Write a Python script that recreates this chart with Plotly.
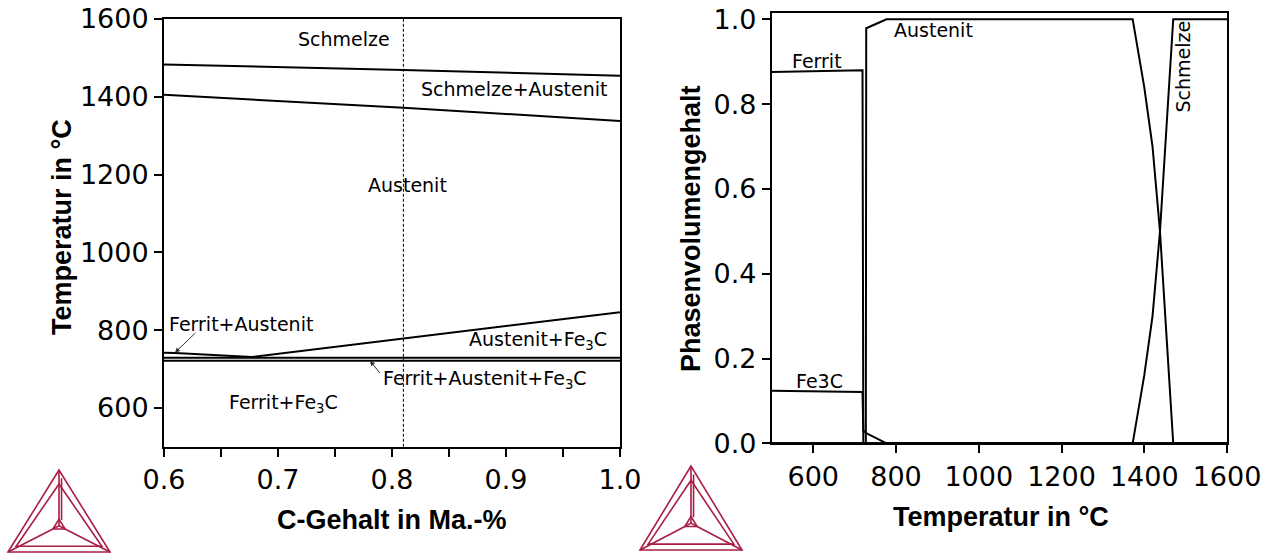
import plotly.graph_objects as go

W, H = 1277, 554

# ---------------- left panel: isopleth section (C content vs temperature)
c_liq = [0.6, 0.81, 1.0]
T_liq = [1483, 1469, 1454]
c_sol = [0.6, 0.81, 1.0]
T_sol = [1405, 1372, 1338]
c_a3acm = [0.6, 0.61, 0.677, 0.81, 1.0]
T_a3acm = [742, 741, 731, 778, 846]
c_eut = [0.6, 1.0]
T_eut_hi = [729, 729]
T_eut_lo = [721, 721]
c_sel = [0.81, 0.81]
T_sel = [500, 1600]

# ---------------- right panel: phase volume fractions vs temperature
T_ferrit = [500, 719, 721, 1600]
f_ferrit = [0.876, 0.880, 0.0, 0.0]
T_fe3c = [500, 719, 721, 728, 777, 1600]
f_fe3c = [0.124, 0.121, 0.03, 0.024, 0.0, 0.0]
T_aus = [500, 727, 728, 777, 1372, 1400, 1420, 1438, 1455, 1470, 1600]
f_aus = [0.0, 0.0, 0.979, 1.0, 1.0, 0.84, 0.70, 0.50, 0.234, 0.0, 0.0]
T_melt = [500, 1372, 1400, 1420, 1438, 1455, 1470, 1600]
f_melt = [0.0, 0.0, 0.16, 0.30, 0.50, 0.766, 1.0, 1.0]

left_xticks = [0.6, 0.7, 0.8, 0.9, 1.0]
left_yticks = [600, 800, 1000, 1200, 1400, 1600]
right_xticks = [600, 800, 1000, 1200, 1400, 1600]
right_yticks = [0.0, 0.2, 0.4, 0.6, 0.8, 1.0]

FONT = "DejaVu Sans"
BOLD = "Liberation Sans"

fig = go.Figure()

def line(x, y, xa, ya, dash=None, width=2):
    fig.add_trace(go.Scatter(x=x, y=y, mode="lines", xaxis=xa, yaxis=ya,
                             line=dict(color="black", width=width, dash=dash),
                             showlegend=False, hoverinfo="skip"))

line(c_sel, T_sel, "x", "y", dash="3px,2px", width=1)
line(c_liq, T_liq, "x", "y")
line(c_sol, T_sol, "x", "y")
line(c_a3acm, T_a3acm, "x", "y")
line(c_eut, T_eut_hi, "x", "y")
line(c_eut, T_eut_lo, "x", "y")

line(T_ferrit, f_ferrit, "x2", "y2")
line(T_fe3c, f_fe3c, "x2", "y2")
line(T_aus, f_aus, "x2", "y2")
line(T_melt, f_melt, "x2", "y2")

def px2paper(px, py):
    return px / W, 1 - py / H

ax_common = dict(showline=True, linecolor="black", linewidth=2, mirror=True,
                 ticks="outside", ticklen=8, tickwidth=2, tickcolor="black",
                 showgrid=False, zeroline=False, automargin=False,
                 tickfont=dict(family=FONT, size=27, color="black"))

fig.update_layout(
    width=W, height=H, autosize=False,
    margin=dict(l=0, r=0, t=0, b=0),
    paper_bgcolor="white", plot_bgcolor="white",
    xaxis=dict(domain=[164 / W, 620 / W], range=[0.6, 1.0], tickvals=left_xticks,
               tickformat=".1f", anchor="y",
               minor=dict(dtick=0.05, tick0=0.6, ticks="outside", ticklen=8, tickwidth=2,
                          tickcolor="black", showgrid=False),
               **ax_common),
    yaxis=dict(domain=[1 - 446.8 / H, 1 - 19 / H], range=[500, 1600], tickvals=left_yticks,
               anchor="x", **ax_common),
    xaxis2=dict(domain=[771.9 / W, 1227 / W], range=[500, 1600], tickvals=right_xticks,
                anchor="y2", **ax_common),
    yaxis2=dict(domain=[1 - 443.3 / H, 1 - 13.3 / H], range=[0, 1.0142], tickvals=right_yticks,
                tickformat=".1f", anchor="x2", **ax_common),
)

ann_font = dict(family=FONT, size=19, color="black")

def label(text, x, y, xr, yr, angle=0):
    fig.add_annotation(text=text, x=x, y=y, xref=xr, yref=yr, showarrow=False,
                       xanchor="center", yanchor="middle", font=ann_font, textangle=angle)

label("Schmelze", 0.758, 1549, "x", "y")
label("Schmelze+Austenit", 0.907, 1421, "x", "y")
label("Austenit", 0.814, 1173, "x", "y")
label("Ferrit+Austenit", 0.6674, 815, "x", "y")
label("Austenit+Fe<sub>3</sub>C", 0.9277, 773, "x", "y")
label("Ferrit+Austenit+Fe<sub>3</sub>C", 0.8815, 672, "x", "y")
label("Ferrit+Fe<sub>3</sub>C", 0.7045, 612, "x", "y")

for (hx, hy, tx, ty) in [(0.6096, 742, 0.6287, 796), (0.7807, 721, 0.7904, 686)]:
    fig.add_annotation(text="", x=hx, y=hy, ax=tx, ay=ty, xref="x", yref="y",
                       axref="x", ayref="y", showarrow=True, arrowhead=2, arrowsize=1,
                       arrowwidth=1, arrowcolor="#333333", standoff=0, startstandoff=0)

label("Ferrit", 610, 0.902, "x2", "y2")
label("Fe3C", 615, 0.148, "x2", "y2")
label("Austenit", 891, 0.976, "x2", "y2")
label("Schmelze", 1493, 0.888, "x2", "y2", angle=-90)

title_font = dict(family=BOLD, size=27, color="black")

def title(text, px, py, angle=0):
    x, y = px2paper(px, py)
    fig.add_annotation(text="<b>%s</b>" % text, x=x, y=y, xref="paper", yref="paper",
                       showarrow=False, xanchor="center", yanchor="middle",
                       font=title_font, textangle=angle)

title("C-Gehalt in Ma.-%", 392, 520)
title("Temperatur in °C", 62, 227, -90)
title("Temperatur in °C", 1001, 517)
title("Phasenvolumengehalt", 691, 229, -90)

# Thermo-Calc style logo (decoration)
LOGO = "#a81e45"

def logo(left, right, top, bottom):
    w = right - left
    h = bottom - top
    cx = (left + right) / 2
    gy = top + 0.68 * h
    A, B, C = (cx, top), (left, bottom), (right, bottom)
    Ai, Bi, Ci = (cx, top + 0.17 * h), (left + 0.08 * w, bottom - 0.07 * h), (right - 0.08 * w, bottom - 0.07 * h)
    G = (cx, gy)
    s1 = (cx, gy - 0.08 * h)
    s2 = (cx - 0.06 * w, gy + 0.04 * h)
    s3 = (cx + 0.06 * w, gy + 0.04 * h)

    def P(p):
        x, y = px2paper(*p)
        return "%.5f %.5f" % (x, y)

    paths = [
        "M %s L %s L %s Z" % (P(A), P(B), P(C)),
        "M %s L %s L %s Z" % (P(Ai), P(Bi), P(Ci)),
        "M %s L %s" % (P(A), P(s1)),
        "M %s L %s" % (P(B), P(s2)),
        "M %s L %s" % (P(C), P(s3)),
        "M %s L %s L %s Z" % (P(s1), P(s2), P(s3)),
        "M %s L %s" % (P((cx + 0.025 * w, top + 0.1 * h)), P((cx + 0.025 * w, gy - 0.07 * h))),
        "M %s L %s" % (P(s2), P(G)),
        "M %s L %s" % (P(s3), P(G)),
        "M %s L %s" % (P(s1), P(G)),
    ]
    for p in paths:
        fig.add_shape(type="path", path=p, xref="paper", yref="paper",
                      line=dict(color=LOGO, width=1.6))

logo(8, 110, 470, 552)
logo(640, 742, 466, 550)

fig.write_html("out.html")
